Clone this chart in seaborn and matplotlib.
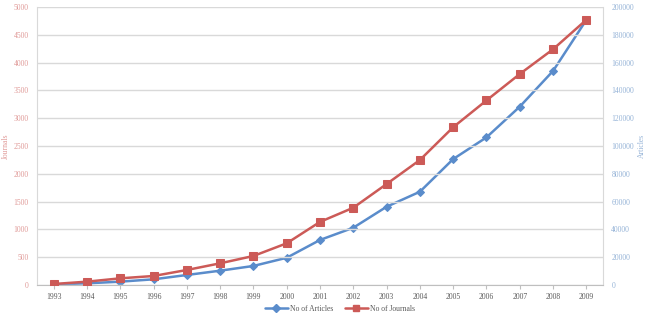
import pandas as pd
import numpy as np
import matplotlib
matplotlib.use("Agg")
import matplotlib.pyplot as plt
import seaborn as sns
from matplotlib.lines import Line2D

years = list(range(1993, 2010))
journals = [18, 60, 120, 162, 270, 390, 522, 750, 1135, 1390, 1816, 2248, 2838, 3320, 3795, 4240, 4770]
articles = [400, 1200, 2400, 4100, 7200, 10300, 13700, 19600, 32400, 41200, 56300, 67100, 90600, 106200, 128300, 154000, 190700]

red = '#cc5a57'
blue = '#5a8ccb'
grid_c = '#d9d9d9'

df = pd.DataFrame({'year': years, 'journals': journals, 'articles': articles})

sns.set_style("white")
plt.rcParams['font.family'] = ['Liberation Serif', 'DejaVu Serif']

fig = plt.figure(figsize=(6.5, 3.14), dpi=100)
ax = fig.add_axes([37/650, 1-285/314, 566/650, 278/314])
ax2 = ax.twinx()

# journals on left axis, articles on right axis
sns.lineplot(data=df, x='year', y='articles', ax=ax2, color=blue, lw=1.8,
             marker='D', markersize=4, markeredgecolor=blue, zorder=3)
sns.lineplot(data=df, x='year', y='journals', ax=ax, color=red, lw=1.8,
             marker='s', markersize=6, markeredgecolor=red, zorder=4)
ax.set_zorder(ax2.get_zorder() + 1)
ax.patch.set_visible(False)

ax.set_xlim(1992.5, 2009.5)
ax.set_ylim(0, 5000)
ax2.set_ylim(0, 200000)
ax.set_yticks(np.arange(0, 5001, 500))
ax2.set_yticks(np.arange(0, 200001, 20000))
ax.set_xticks(years)
ax.set_xticklabels([str(y) for y in years])

ax.grid(axis='y', color=grid_c, lw=1)
ax.grid(axis='x', visible=False)
ax2.grid(False)

for a in (ax, ax2):
    for s in a.spines.values():
        s.set_visible(False)
ax.spines['left'].set_visible(True)
ax.spines['left'].set_color(grid_c)
ax.spines['bottom'].set_visible(True)
ax.spines['bottom'].set_color('#bfbfbf')
ax2.spines['right'].set_visible(True)
ax2.spines['right'].set_color(grid_c)

ax.tick_params(axis='y', colors='#e09a98', labelsize=5.5, length=0, pad=6)
ax2.tick_params(axis='y', colors='#95b3d7', labelsize=5.5, length=0, pad=6)
ax.tick_params(axis='x', colors='#bfbfbf', labelcolor='#595959', labelsize=5.5,
               length=3, width=0.8, direction='out', pad=3, bottom=True)

ax.set_xlabel('')
ax.set_ylabel('Journals', color='#e09a98', fontsize=5.5, labelpad=3)
ax2.set_ylabel('Articles', color='#95b3d7', fontsize=5.5, labelpad=3)

handles = [Line2D([], [], color=blue, lw=1.8, marker='D', markersize=4),
           Line2D([], [], color=red, lw=1.8, marker='s', markersize=5)]
fig.legend(handles, ['No of Articles', 'No of Journals'], loc='center',
           bbox_to_anchor=(340/650, 1-309/314), ncol=2, frameon=False,
           fontsize=5.5, labelcolor='#595959', handlelength=3, columnspacing=1.5,
           handletextpad=0.3)

fig.savefig('out.png', dpi=100)
